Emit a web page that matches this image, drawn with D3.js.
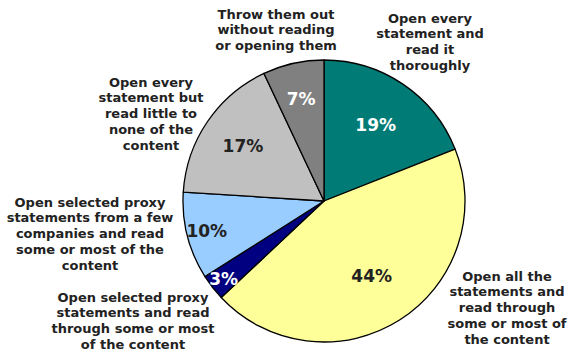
<!DOCTYPE html>
<html>
<head>
<meta charset="utf-8">
<script src="https://cdn.jsdelivr.net/npm/d3@7"></script>
<style>
  html, body { margin: 0; padding: 0; background: #fff; }
  svg { display: block; }
</style>
</head>
<body>
<svg id="chart" width="571" height="352"></svg>
<script>
// Survey responses: how shareholders handle proxy statements
const categories = [
  "Open every statement and read it thoroughly",
  "Open all the statements and read through some or most of the content",
  "Open selected proxy statements and read through some or most of the content",
  "Open selected proxy statements from a few companies and read some or most of the content",
  "Open every statement but read little to none of the content",
  "Throw them out without reading or opening them"
];
const values = [19, 44, 3, 10, 17, 7];

// Wrapped label lines for each category
const labelLines = [
  ["Open every", "statement and", "read it", "thoroughly"],
  ["Open all the", "statements and", "read through", "some or most of", "the content"],
  ["Open selected proxy", "statements and read", "through some or most", "of the content"],
  ["Open selected proxy", "statements from a few", "companies and read", "some or most of the", "content"],
  ["Open every", "statement but", "read little to", "none of the", "content"],
  ["Throw them out", "without reading", "or opening them"]
];

// Styling and layout
const colors = ["#007B76", "#FFFF99", "#000080", "#99CCFF", "#C0C0C0", "#808080"];
const pctColors = ["#ffffff", "#222222", "#ffffff", "#222222", "#222222", "#ffffff"];
const pctRadius = [92, 89, 127, 121, 98, 105];
const labelPos = [[430, 18], [507, 276], [133, 297], [90, 202], [151, 82], [276, 14]];

const W = 571, H = 352;
const cx = 324, cy = 201, R = 141;
const lineH = 15.8;

const svg = d3.select("#chart");
const g = svg.append("g").attr("transform", `translate(${cx},${cy})`);

const pie = d3.pie().sort(null).value(d => d)(values);
const arc = d3.arc().innerRadius(0).outerRadius(R);

g.selectAll("path.slice")
  .data(pie)
  .join("path")
  .attr("class", "slice")
  .attr("d", arc)
  .attr("fill", (d, i) => colors[i])
  .attr("stroke", "#000")
  .attr("stroke-width", 1.3)
  .attr("stroke-linejoin", "round");

// Percentage labels inside slices
g.selectAll("text.pct")
  .data(pie)
  .join("text")
  .attr("class", "pct")
  .attr("transform", (d, i) => {
    const c = d3.arc().innerRadius(pctRadius[i]).outerRadius(pctRadius[i]).centroid(d);
    return `translate(${c[0]},${c[1]})`;
  })
  .attr("text-anchor", "middle")
  .attr("dy", "0.36em")
  .attr("font-family", "DejaVu Sans, Verdana, sans-serif")
  .attr("font-weight", "bold")
  .attr("font-size", 17)
  .attr("fill", (d, i) => pctColors[i])
  .text(d => d.data + "%");

// Category labels around the pie
const lab = svg.selectAll("text.cat")
  .data(labelLines)
  .join("text")
  .attr("class", "cat")
  .attr("text-anchor", "middle")
  .attr("font-family", "DejaVu Sans, Verdana, sans-serif")
  .attr("font-weight", "bold")
  .attr("font-size", 13)
  .attr("fill", "#222");

lab.each(function(lines, i) {
  d3.select(this).selectAll("tspan")
    .data(lines)
    .join("tspan")
    .attr("x", labelPos[i][0])
    .attr("y", (l, j) => labelPos[i][1] + j * lineH)
    .attr("dy", "0.36em")
    .text(l => l);
});
</script>
</body>
</html>
